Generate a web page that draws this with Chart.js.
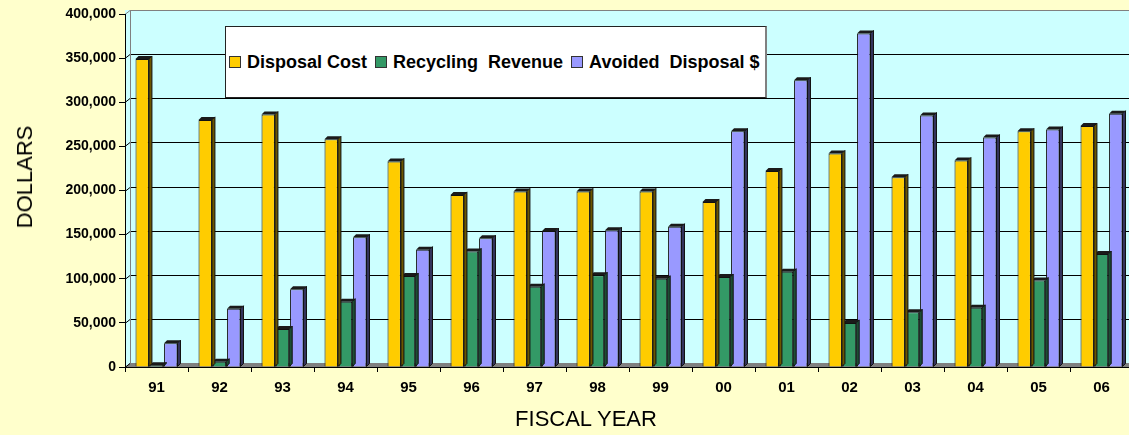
<!DOCTYPE html>
<html>
<head>
<meta charset="utf-8">
<script src="https://cdn.jsdelivr.net/npm/chart.js@4/dist/chart.umd.min.js"></script>
<style>
  html, body { margin: 0; padding: 0; background: #FFFFCC; overflow: hidden; }
  #wrap { position: relative; width: 1133px; height: 435px; }
  #legend {
    position: absolute; left: 225px; top: 26px; width: 542px; height: 72px;
    background: #fff; border: 1px solid #222; border-right: 2px solid #808080;
    display: flex; align-items: center; padding-left: 3px; box-sizing: border-box;
    font: bold 18px "Liberation Sans", Arial, sans-serif; color: #000; white-space: pre;
  }
  #legend .sw { width: 10px; height: 10px; border: 1px solid #333; margin-right: 6px; flex: none; }
  #legend .item { display: flex; align-items: center; margin-right: 8px; }
  .axis-title {
    position: absolute; font: 22px "Liberation Sans", Arial, sans-serif; line-height: 26px;
    color: #000; white-space: nowrap;
  }
  #xtitle { left: 586px; top: 406px; transform: translateX(-50%); }
  #ytitle { left: 25px; top: 177px; transform: translate(-50%, -50%) rotate(-90deg); }
</style>
</head>
<body>
<div id="wrap">
  <canvas id="c"></canvas>
  <div id="legend"></div>
  <div class="axis-title" id="xtitle"></div>
  <div class="axis-title" id="ytitle"></div>
</div>
<script>
const years = ['91', '92', '93', '94', '95', '96', '97', '98', '99', '00', '01', '02', '03', '04', '05', '06'];
const disposalCost = [349000, 280000, 286000, 258000, 233000, 195000, 199000, 199000, 199000, 187000, 222000, 242000, 215000, 234000, 267000, 273000];
const recyclingRevenue = [2000, 6000, 43000, 74000, 103000, 131000, 91000, 104000, 100000, 102000, 108000, 50000, 62000, 67000, 98000, 128000];
const avoidedDisposal = [27000, 66000, 88000, 147000, 133000, 146000, 154000, 155000, 159000, 267000, 325000, 378000, 285000, 260000, 269000, 287000];

const seriesLabels = ['Disposal Cost', 'Recycling  Revenue', 'Avoided  Disposal $'];
const seriesColors = ['#FFCC00', '#339966', '#9999FF'];
const sideColors = ['#6b5500', '#1c4d34', '#33335c'];
const xTitle = 'FISCAL YEAR';
const yTitle = 'DOLLARS';

const font = '"Liberation Sans", Arial, sans-serif';
const depth = 4;

// back wall, floor and gridlines drawn a few px up/right like the 3D original
const wallPlugin = {
  id: 'wall',
  beforeDraw(chart) {
    const { ctx, chartArea: a, scales: { y } } = chart;
    ctx.save();
    ctx.fillStyle = '#CCFFFF';
    ctx.fillRect(a.left, a.top - depth, a.right - a.left + depth, a.bottom - a.top + depth);

    ctx.fillStyle = '#808080';
    ctx.beginPath();
    ctx.moveTo(a.left, a.bottom);
    ctx.lineTo(a.left + depth + 1, a.bottom - depth);
    ctx.lineTo(a.right + depth, a.bottom - depth);
    ctx.lineTo(a.right, a.bottom);
    ctx.closePath();
    ctx.fill();

    ctx.lineWidth = 1;
    y.ticks.forEach(t => {
      const py = Math.round(y.getPixelForValue(t.value)) + 0.5;
      ctx.strokeStyle = t.value === y.max ? '#808080' : '#000';
      ctx.beginPath();
      ctx.moveTo(a.left, py);
      ctx.lineTo(a.left + depth + 1, py - depth);
      if (t.value !== 0) ctx.lineTo(a.right + depth, py - depth);
      ctx.stroke();
    });
    ctx.strokeStyle = '#808080';
    ctx.beginPath();
    ctx.moveTo(a.left + depth + 1.5, a.top - depth);
    ctx.lineTo(a.left + depth + 1.5, a.bottom - depth);
    ctx.stroke();
    ctx.restore();
  }
};

// side and top faces for each bar
const bar3d = {
  id: 'bar3d',
  afterDatasetDraw(chart, args) {
    const ctx = chart.ctx;
    const d = 3;
    ctx.save();
    ctx.lineWidth = 1;
    ctx.strokeStyle = '#111';
    args.meta.data.forEach(bar => {
      const { x, y, base, width } = bar.getProps(['x', 'y', 'base', 'width'], true);
      const l = x - width / 2, r = x + width / 2;
      ctx.fillStyle = sideColors[args.index];
      ctx.beginPath();
      ctx.moveTo(r, y);
      ctx.lineTo(r + d, y - d);
      ctx.lineTo(r + d, base - d);
      ctx.lineTo(r, base);
      ctx.closePath();
      ctx.fill();
      ctx.stroke();
      ctx.fillStyle = '#1a1a1a';
      ctx.beginPath();
      ctx.moveTo(l, y);
      ctx.lineTo(l + d, y - d);
      ctx.lineTo(r + d, y - d);
      ctx.lineTo(r, y);
      ctx.closePath();
      ctx.fill();
    });
    ctx.restore();
  }
};

const values = [disposalCost, recyclingRevenue, avoidedDisposal];

new Chart(document.getElementById('c'), {
  type: 'bar',
  data: {
    labels: years,
    datasets: values.map((v, i) => ({
      label: seriesLabels[i],
      data: v,
      backgroundColor: seriesColors[i],
      borderColor: '#111',
      borderWidth: 1,
      categoryPercentage: 0.68,
      barPercentage: 0.94
    }))
  },
  options: {
    responsive: true,
    maintainAspectRatio: false,
    animation: false,
    layout: { padding: { top: 14, right: 0, bottom: 0, left: 0 } },
    plugins: { legend: { display: false }, tooltip: { enabled: false } },
    scales: {
      x: {
        grid: { drawOnChartArea: false, tickLength: 5, color: '#000' },
        border: { color: '#000' },
        ticks: { color: '#000', padding: 7, font: { family: font, size: 15, weight: 'bold' } },
        afterFit(s) { s.height = 68; }
      },
      y: {
        min: 0,
        max: 400000,
        ticks: {
          stepSize: 50000, color: '#000', padding: 3,
          font: { family: font, size: 14, weight: 'bold' },
          callback: v => v.toLocaleString('en-US')
        },
        grid: { drawOnChartArea: false, tickLength: 6, color: '#000' },
        border: { color: '#000' },
        afterFit(s) { s.width = 125; }
      }
    }
  },
  plugins: [wallPlugin, bar3d]
});

document.getElementById('xtitle').textContent = xTitle;
document.getElementById('ytitle').textContent = yTitle;

const legend = document.getElementById('legend');
seriesLabels.forEach((lab, i) => {
  const item = document.createElement('span');
  item.className = 'item';
  const sw = document.createElement('span');
  sw.className = 'sw';
  sw.style.background = seriesColors[i];
  item.appendChild(sw);
  item.appendChild(document.createTextNode(lab));
  legend.appendChild(item);
});
</script>
</body>
</html>
